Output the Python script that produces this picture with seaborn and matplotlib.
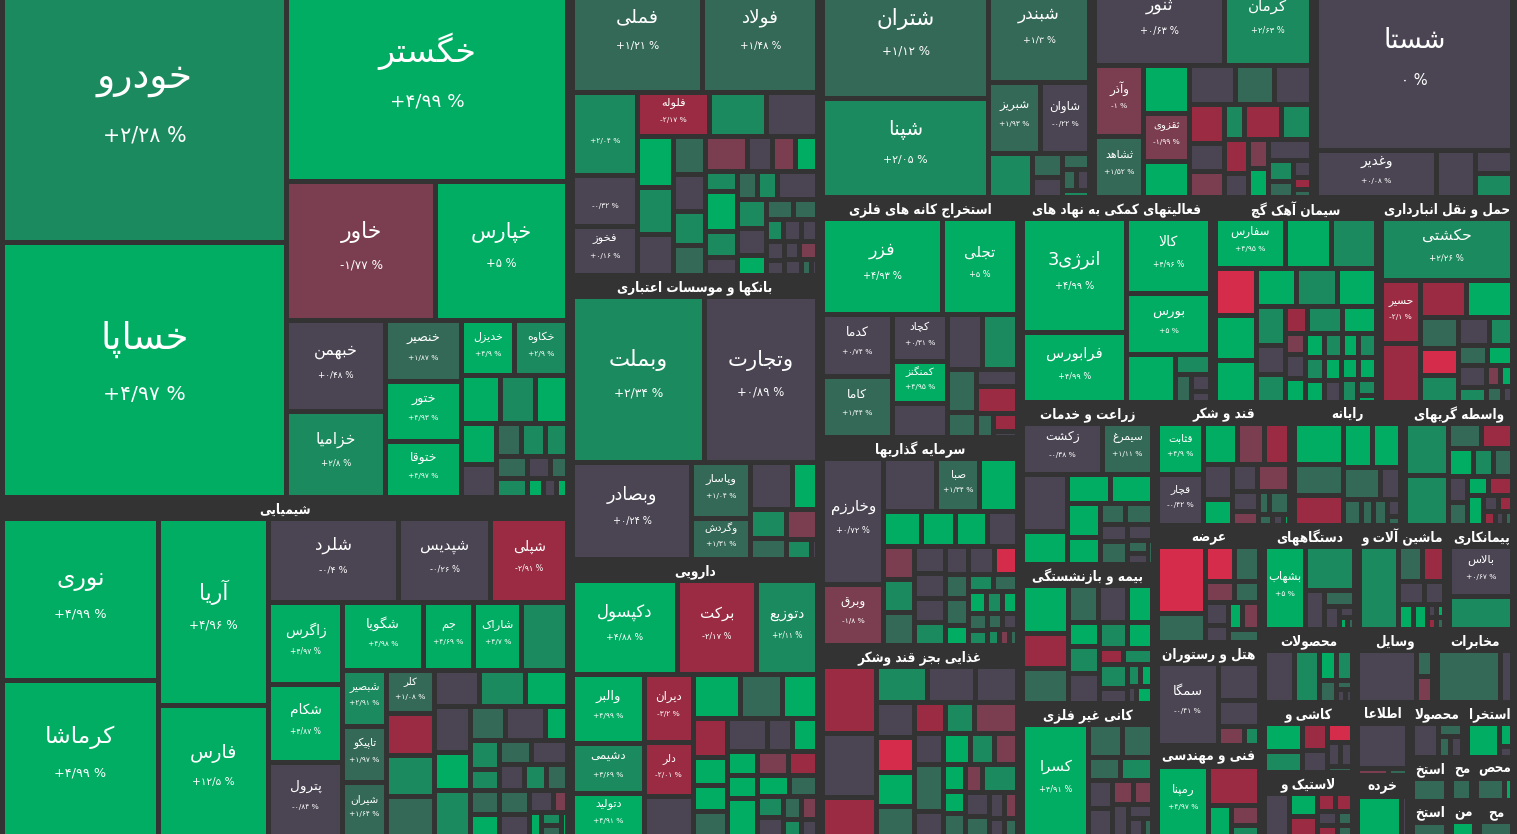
import math
import matplotlib
matplotlib.use("Agg")
import matplotlib.pyplot as plt
import seaborn as sns
from matplotlib.textpath import TextPath
from matplotlib.font_manager import FontProperties

# ---------------- data ----------------
sector_titles = [
    "خودرو و ساخت قطعات", "شیمیایی", "فلزات اساسی", "بانکها و موسسات اعتباری", "دارویی",
    "فرآورده های نفتی", "انبوه سازی املاک و مستغلات", "چند رشته ای صنعتی",
    "استخراج کانه های فلزی", "سرمایه گذاریها", "غذایی بجز قند وشکر",
    "فعالیتهای کمکی به نهاد های مالی", "سیمان آهک گچ", "حمل و نقل انبارداری و ارتباطات",
    "زراعت و خدمات وابسته", "بیمه و بازنشستگی", "کانی غیر فلزی",
    "قند و شکر", "رایانه", "واسطه گریهای مالی",
    "عرضه برق،گاز،بخار و آب گرم", "هتل و رستوران", "فنی و مهندسی",
    "دستگاههای برقی", "ماشین آلات و تجهیزات", "پیمانکاری صنعتی",
    "محصولات فلزی", "کاشی و سرامیک", "لاستیک و پلاستیک",
    "وسایل ارتباطی", "مخابرات", "اطلاعات و ارتباطات", "خرده فروشی",
    "محصولات کاغذی", "استخراج نفت گاز", "استخراج ذغال سنگ", "استخراج سایر معادن",
    "محصولات چوبی", "محصولات چرمی", "منسوجات", "محصولات شیمیایی",
]
sector_sizes = [
    308370, 193230, 79750, 71000, 69250, 65550, 53500, 48440, 48000, 41600, 38200,
    39500, 34000, 27980, 21870, 18770, 17960, 16850, 13600, 13830, 12520, 11020, 9740,
    9880, 9400, 7030, 6790, 6510, 5950, 5840, 5840, 4020, 3360, 3030, 2750, 1720, 1400,
    1080, 1760, 980, 1370,
]

auto_names = ["خودرو", "خساپا", "خگستر", "خاور", "خپارس", "خبهمن", "خزامیا", "خنصیر", "ختور", "ختوقا", "خدیزل", "خکاوه"]
auto_sizes = [71900, 69100, 54600, 19800, 17600, 8550, 8080, 4380, 4380, 4020, 2780, 2740, 1800, 1550, 1470,
              1400, 1120, 800, 750, 700, 620, 560, 480, 350, 300, 250, 200]
auto_changes = [2.28, 4.97, 4.99, -1.77, 5, 0.48, 2.8, 1.87, 4.93, 4.97, 4.9, 2.9, 4.5, 2.5, 4.2,
                4.1, 0.3, 1.5, 2.3, 2.4, 1.4, 2.2, 0.2, 1.3, 4.2, 0.1, 4.5]

chem_names = ["نوری", "کرماشا", "آریا", "فارس", "شلرد", "شپدیس", "شپلی", "زاگرس", "شکام", "پترول",
              "شگویا", "جم", "شاراک", "", "شبصیر", "تاپیکو", "شیران", "کلر"]
chem_sizes = [24640, 23870, 20270, 14170, 10690, 7610, 6320, 5900, 5690, 5330, 5310, 3330, 3200, 3010,
              2430, 2380, 2320, 2050, 1940, 1940, 1850, 1630, 1660, 1510, 1620, 1350, 1640, 1150, 1310,
              730, 810, 620, 680, 620, 760, 840, 650, 570, 530, 700, 650, 500, 300, 280, 250, 200, 150]
chem_changes = [4.99, 4.99, 4.96, 12.5, -0.4, -0.26, -2.91, 4.97, 4.87, -0.84, 4.98, 4.69, 4.7, 2.5,
                2.91, 1.97, 1.64, 1.08, -2.5, 2.4, 1.5, 0.3, 2.3, 4.5, 0.1, 4.2, 2.2, 1.4, 0.2,
                4.4, 2.1, 2.0, 1.3, 4.1, 1.2, 0.4, -0.2, 2.2, 1.6, 1.3, 0.2, -0.4, -1.5, 4.2, 2.2, 1.4, 4.3]

metal_names = ["فملی", "فولاد", "", "", "فخوز", "فلوله"]
metal_sizes = [15010, 13210, 5450, 3360, 3240, 3240, 2580, 2280, 1820, 1670, 1480, 1210, 1170, 1090, 975,
               1440, 860, 810, 760, 650, 1330, 830, 590, 570, 550, 1140, 830, 800, 570, 540, 490, 380,
               380, 360, 340, 270, 270, 340, 270, 150, 100]
metal_changes = [1.21, 1.48, 2.04, -0.32, 0.16, -2.17, 2.3, 0.5, 4.5, 2.6, 0.2, 1.5, -0.3, 2.3, 1.2,
                 -1.3, 0.3, -1.4, 4.4, 2.4, 4.3, 2.3, 0.2, 1.4, 2.3, 0.1, 2.2, -0.1, 4.2, 1.3, 1.5, 2.1,
                 0.3, 0.1, 0.2, 0.1, 0.3, -1.5, 0.2, 1.3, 0.1]

bank_names = ["وبملت", "وتجارت", "وبصادر", "وپاسار", "وگردش"]
bank_sizes = [22340, 19150, 11780, 3310, 2440, 2020, 1180, 1080, 760, 960, 530, 120]
bank_changes = [2.34, 0.89, 0.24, 1.04, 1.31, 0.3, 4.5, 2.2, 1.5, -1.4, 2.4, 0.3]

pharma_names = ["دکپسول", "برکت", "دتوزیع", "والبر", "دشیمی", "دتولید", "دیران", "دلر"]
pharma_sizes = [9240, 6950, 5370, 4690, 3420, 2880, 3150, 2430, 1850, 1990, 1760, 1440, 1260, 880, 830,
                800, 1260, 770, 770, 700, 650, 1100, 700, 650, 600, 550, 500, 450, 400, 350, 300, 250]
pharma_changes = [4.88, -2.17, 2.11, 4.99, 3.69, 4.91, -3.2, -2.01, 0.2, 4.3, 1.6, 4.5, -2.6, 4.4, 4.2,
                  1.5, 0.1, 0.3, 4.2, 4.5, 4.1, 4.3, -1.5, -2.4, 4.2, 1.4, 2.3, 0.2, 1.3, -1.6, 2.2, 0.1]

refine_names = ["شتران", "شپنا", "شبندر", "شبریز", "شاوان"]
refine_sizes = [20540, 16870, 10800, 3800, 3580, 1980, 710, 620, 430, 300, 280, 200]
refine_changes = [1.12, 2.05, 1.3, 1.93, -0.22, 2.2, 1.5, 0.3, 1.4, 1.3, 0.2, 2.1]

estate_names = ["ثنور", "کرمان", "وآذر", "ثشاهد", "", "ثقزوی"]
estate_sizes = [11350, 7650, 3480, 3010, 2200, 2200, 1670, 1810, 1520, 1440, 1370, 950, 920, 730, 1300,
                1070, 840, 580, 580, 580, 900, 500, 400, 300, 200, 150]
estate_changes = [0.63, 2.63, -1, 1.52, 4.4, -1.99, 4.5, 0.4, 1.2, -0.5, -2.5, 0.2, -1.5, 2.3, -3.0,
                  2.1, -2.8, 0.3, -1.6, 4.3, 0.1, 2.2, 1.4, -0.2, -2.4, 1.3]

multi_names = ["شستا", "وغدیر"]
multi_sizes = [33600, 5620, 1820, 860, 860]
multi_changes = [0, 0.08, 0.1, 0.4, 2.3]

ore_names = ["فزر", "تجلی", "کدما", "کاما", "کچاد", "کمنگنز"]
ore_sizes = [11300, 7130, 4280, 4210, 2590, 2310, 1870, 1940, 1890, 1250, 740, 700, 1060, 400, 420, 150]
ore_changes = [4.93, 5, 0.74, 1.44, 0.31, 4.95, 0.3, 0.2, 2.3, 1.2, 1.4, 0.1, -2.6, 1.3, -2.2, 0.2]

invest_names = ["وخارزم", "وبرق", "", "صبا"]
invest_sizes = [7580, 3680, 2700, 2250, 1940, 1310, 1190, 1120, 1040, 970, 1000, 970, 810, 770, 720, 700,
                620, 730, 620, 540, 600, 450, 400, 380, 400, 350, 330, 300, 280, 250, 230, 200, 150, 120]
invest_changes = [0.72, -1.8, 0.3, 1.34, 4.4, 4.2, 4.5, 4.1, 0.2, -1.6, 2.3, 1.4, 0.4, 0.1, -0.2, 2.2,
                  0.3, 0.2, -4.5, 1.5, 1.6, 4.3, 2.2, 1.3, 4.2, 2.4, 4.1, 1.2, 2.1, 1.4, 0.2, 2.3, -1.3, 1.5]

food_names = []
food_sizes = [3190, 3090, 1860, 1630, 1520, 1330, 1180, 1190, 1120, 1020, 850, 780, 1190, 780, 725, 650,
              625, 1190, 650, 520, 430, 450, 400, 875, 500, 400, 350, 300, 250, 200]
food_changes = [-2.8, 0.3, -2.4, 2.4, 0.2, 0.4, -0.1, -4.6, 4.3, 1.5, -2.4, 2.5, -1.5, 0.2, 4.2, 2.3,
                -1.4, 1.4, 0.1, 4.4, 4.1, 1.3, -1.6, 2.3, 0.3, 1.5, -0.3, -1.2, 0.2, 1.4]

finsvc_names = ["انرژی3", "فرابورس", "کالا", "بورس"]
finsvc_sizes = [11420, 6940, 5990, 4860, 2210, 680, 420, 300, 200]
finsvc_changes = [4.99, 4.99, 4.96, 5, 4.5, 2.2, 1.5, 0.3, 0.2]

cement_names = ["سفارس"]
cement_sizes = [3430, 2300, 2160, 1880, 1800, 1680, 1480, 1510, 1440, 1100, 800, 800, 575, 900, 870, 400,
                475, 460, 460, 420, 420, 400, 380, 400, 380, 360, 360, 380, 360, 300, 120]
cement_changes = [4.95, 4.5, 2.3, -4.5, 4.4, 4.3, 4.2, 2.5, 4.1, 2.3, 0.2, 2.2, -2.5, 2.3, 4.4, -1.5,
                  0.1, 4.3, 4.2, 2.3, 4.4, 2.2, 4.1, 2.4, 4.5, 0.2, 4.3, 4.2, 2.1, 2.3, 4.1]

trans_names = ["حکشتی", "حسیر"]
trans_sizes = [8180, 2480, 2320, 1700, 1670, 1160, 1050, 1010, 840, 650, 570, 510, 600, 420, 300, 250, 250, 150]
trans_changes = [2.26, -2.1, -2.5, -2.3, 4.4, 1.3, -4.2, 2.2, -0.3, 2.3, 1.4, 4.1, 0.2, 2.1, -1.6, 4.3, 1.2, 0.3]

farm_names = ["زکشت", "سیمرغ"]
farm_sizes = [3950, 2500, 2510, 1450, 1200, 1160, 1080, 870, 520, 550, 435, 600, 400, 260, 240, 80]
farm_changes = [-0.38, 1.11, 0.2, 4.3, 4.5, 4.4, 4.2, 4.1, 1.5, 1.3, 0.3, 1.2, 0.2, 1.6, 0.1, 1.2]

insur_names = []
insur_sizes = [2110, 1540, 1540, 1050, 1020, 880, 730, 810, 900, 700, 650, 360, 430, 625, 400, 280, 250, 150, 250]
insur_changes = [4.2, -2.5, 1.5, 1.3, 0.1, 4.3, 4.2, 2.4, 0.2, 2.2, 4.4, -2.3, 2.1, 2.3, 0.2, 2.2, 4.1, 0.3, 4.3]

mineral_names = ["کسرا"]
mineral_sizes = [6870, 1020, 930, 660, 690, 600, 620, 460, 400, 480, 300, 250, 150]
mineral_changes = [4.91, 1.4, 1.6, 1.2, 2.3, 0.2, 0.3, -1.5, -1.7, 0.1, 0.2, -0.2, 1.3]

sugar_names = ["قثابت", "قچار"]
sugar_sizes = [2250, 2250, 1290, 1050, 980, 960, 725, 650, 840, 480, 340, 220, 430, 150, 120, 60]
sugar_changes = [4.9, -0.42, 4.3, -1.4, -2.3, 0.3, 4.4, -0.2, -1.3, 0.2, -1.6, 1.4, 1.3, 1.2, 0.1, 4.2]

comp_names = []
comp_sizes = [1920, 1440, 1390, 1200, 1170, 1160, 600, 435, 300, 340, 200, 100]
comp_changes = [4.4, 1.5, -2.5, 4.2, 4.3, 1.4, 0.2, 1.4, 1.3, 1.2, 0.1, 1.3]

broker_names = []
broker_sizes = [2100, 2020, 790, 720, 680, 550, 500, 480, 420, 375, 425, 440, 220, 200, 150, 130, 100]
broker_changes = [2.4, 2.3, 1.3, -2.6, 4.3, 2.2, 1.4, 0.3, 1.5, 4.2, -2.2, 4.1, 0.2, -2.2, -2.3, -0.1, 1.2]

power_names = []
power_sizes = [3260, 1390, 1010, 900, 630, 525, 510, 400, 360, 460, 420]
power_changes = [-4.5, 1.5, -4.2, 1.4, -1.4, 1.3, 0.2, 0.1, 4.3, -1.3, 1.2]

hotel_names = ["سمگا"]
hotel_sizes = [4860, 1520, 1030, 490, 285]
hotel_changes = [-0.41, 0.2, 0.3, -1.5, 2.2]

eng_names = ["رمپنا"]
eng_sizes = [3520, 2000, 700, 550, 300]
eng_changes = [4.97, -2.5, 4.2, -1.4, 2.2]

elec_names = ["بشهاب"]
elec_sizes = [3360, 2160, 760, 480, 330, 150, 100, 80]
elec_changes = [5, 2.3, 0.2, 1.4, 0.1, 0.3, 4.2, 1.3]

mach_names = []
mach_sizes = [3080, 790, 730, 570, 440, 340, 340, 120, 100, 100, 90]
mach_changes = [2.3, 1.3, -2.4, 0.2, 0.1, 4.2, 4.1, 0.3, 4.4, -2.2, 1.2]

contr_names = ["بالاس"]
contr_sizes = [3200, 2110]
contr_changes = [0.67, 2.2]

metprod_sizes = [1510, 1250, 490, 440, 350, 150, 120, 80]
metprod_changes = [0.3, 2.4, 4.3, 2.2, 1.4, 1.3, 0.2, 0.1]
tile_sizes = [1070, 780, 670, 540, 480, 300, 290, 150]
tile_changes = [4.3, 2.3, -2.6, 0.3, -4.5, 0.2, 0.2, 1.3]
rubber_sizes = [960, 590, 490, 285, 270, 250, 200, 200, 150]
rubber_changes = [0.3, 4.2, -2.4, -2.5, -2.3, 0.1, -2.2, 1.4, 1.3]
vehicle_sizes = [2360, 320, 320]
vehicle_changes = [0.2, 1.4, -1.5]
telecom_sizes = [2480, 480]
telecom_changes = [1.3, 0.2]
info_sizes = [2900, 280, 170]
info_changes = [0.2, -1.6, 1.3]
retail_sizes = [1480, 200]
retail_changes = [4.3, 0.2]
paper_sizes = [900, 300, 250, 250]
paper_changes = [0.2, 1.3, 1.4, 0.1]
oil_sizes = [930, 250, 120]
oil_changes = [4.3, 4.1, 0.2]
small_sizes = [[700], [500], [300], [700, 200], [300], [400]]
small_changes = [[1.4], [1.3], [1.2], [1.5, 4.2], [4.3], [1.3]]

pct_only = {2: [2, 3]}   # sector index -> tiles showing only the percentage

stocks = [
    (auto_names, auto_sizes, auto_changes), (chem_names, chem_sizes, chem_changes),
    (metal_names, metal_sizes, metal_changes), (bank_names, bank_sizes, bank_changes),
    (pharma_names, pharma_sizes, pharma_changes), (refine_names, refine_sizes, refine_changes),
    (estate_names, estate_sizes, estate_changes), (multi_names, multi_sizes, multi_changes),
    (ore_names, ore_sizes, ore_changes), (invest_names, invest_sizes, invest_changes),
    (food_names, food_sizes, food_changes), (finsvc_names, finsvc_sizes, finsvc_changes),
    (cement_names, cement_sizes, cement_changes), (trans_names, trans_sizes, trans_changes),
    (farm_names, farm_sizes, farm_changes), (insur_names, insur_sizes, insur_changes),
    (mineral_names, mineral_sizes, mineral_changes), (sugar_names, sugar_sizes, sugar_changes),
    (comp_names, comp_sizes, comp_changes), (broker_names, broker_sizes, broker_changes),
    (power_names, power_sizes, power_changes), (hotel_names, hotel_sizes, hotel_changes),
    (eng_names, eng_sizes, eng_changes), (elec_names, elec_sizes, elec_changes),
    (mach_names, mach_sizes, mach_changes), (contr_names, contr_sizes, contr_changes),
    ([], metprod_sizes, metprod_changes), ([], tile_sizes, tile_changes),
    ([], rubber_sizes, rubber_changes), ([], vehicle_sizes, vehicle_changes),
    ([], telecom_sizes, telecom_changes), ([], info_sizes, info_changes),
    ([], retail_sizes, retail_changes), ([], paper_sizes, paper_changes),
    ([], oil_sizes, oil_changes),
] + [([], s, c) for s, c in zip(small_sizes, small_changes)]

bin_colors = ["#D62C4C", "#9B2B42", "#7B3E50", "#4B4553", "#356957", "#1B8A5E", "#00AD63"]
BG = "#333333"

# ---------------- helpers ----------------
FORMS = {
    'ء': ('\uFE80', None, None, None), 'آ': ('\uFE81', '\uFE82', None, None),
    'أ': ('\uFE83', '\uFE84', None, None), 'ؤ': ('\uFE85', '\uFE86', None, None),
    'إ': ('\uFE87', '\uFE88', None, None), 'ئ': ('\uFE89', '\uFE8A', '\uFE8B', '\uFE8C'),
    'ا': ('\uFE8D', '\uFE8E', None, None), 'ب': ('\uFE8F', '\uFE90', '\uFE91', '\uFE92'),
    'ة': ('\uFE93', '\uFE94', None, None), 'ت': ('\uFE95', '\uFE96', '\uFE97', '\uFE98'),
    'ث': ('\uFE99', '\uFE9A', '\uFE9B', '\uFE9C'), 'ج': ('\uFE9D', '\uFE9E', '\uFE9F', '\uFEA0'),
    'ح': ('\uFEA1', '\uFEA2', '\uFEA3', '\uFEA4'), 'خ': ('\uFEA5', '\uFEA6', '\uFEA7', '\uFEA8'),
    'د': ('\uFEA9', '\uFEAA', None, None), 'ذ': ('\uFEAB', '\uFEAC', None, None),
    'ر': ('\uFEAD', '\uFEAE', None, None), 'ز': ('\uFEAF', '\uFEB0', None, None),
    'س': ('\uFEB1', '\uFEB2', '\uFEB3', '\uFEB4'), 'ش': ('\uFEB5', '\uFEB6', '\uFEB7', '\uFEB8'),
    'ص': ('\uFEB9', '\uFEBA', '\uFEBB', '\uFEBC'), 'ض': ('\uFEBD', '\uFEBE', '\uFEBF', '\uFEC0'),
    'ط': ('\uFEC1', '\uFEC2', '\uFEC3', '\uFEC4'), 'ظ': ('\uFEC5', '\uFEC6', '\uFEC7', '\uFEC8'),
    'ع': ('\uFEC9', '\uFECA', '\uFECB', '\uFECC'), 'غ': ('\uFECD', '\uFECE', '\uFECF', '\uFED0'),
    'ف': ('\uFED1', '\uFED2', '\uFED3', '\uFED4'), 'ق': ('\uFED5', '\uFED6', '\uFED7', '\uFED8'),
    'ل': ('\uFEDD', '\uFEDE', '\uFEDF', '\uFEE0'), 'م': ('\uFEE1', '\uFEE2', '\uFEE3', '\uFEE4'),
    'ن': ('\uFEE5', '\uFEE6', '\uFEE7', '\uFEE8'), 'ه': ('\uFEE9', '\uFEEA', '\uFEEB', '\uFEEC'),
    'و': ('\uFEED', '\uFEEE', None, None), 'پ': ('\uFB56', '\uFB57', '\uFB58', '\uFB59'),
    'چ': ('\uFB7A', '\uFB7B', '\uFB7C', '\uFB7D'), 'ژ': ('\uFB8A', '\uFB8B', None, None),
    'ک': ('\uFB8E', '\uFB8F', '\uFB90', '\uFB91'), 'گ': ('\uFB92', '\uFB93', '\uFB94', '\uFB95'),
    'ی': ('\uFBFC', '\uFBFD', '\uFBFE', '\uFBFF'),
}
LAM_ALEF = {'ا': ('\uFEFB', '\uFEFC'), 'آ': ('\uFEF5', '\uFEF6'),
            'أ': ('\uFEF7', '\uFEF8'), 'إ': ('\uFEF9', '\uFEFA')}


def shape(text):
    # join arabic letters and reverse for left-to-right drawing
    def fwd(c):
        return c in FORMS and FORMS[c][2] is not None

    def letter(c):
        return c in FORMS and c != 'ء'

    out, i, n = [], 0, len(text)
    while i < n:
        c = text[i]
        if c not in FORMS:
            out.append(c)
            i += 1
            continue
        link_prev = i > 0 and fwd(text[i - 1]) and letter(c)
        if c == 'ل' and i + 1 < n and text[i + 1] in LAM_ALEF:
            iso, fin = LAM_ALEF[text[i + 1]]
            out.append(fin if link_prev else iso)
            i += 2
            continue
        link_next = i + 1 < n and fwd(c) and letter(text[i + 1])
        iso, fin, ini, med = FORMS[c]
        out.append(med if link_prev and link_next else fin if link_prev else ini if link_next else iso)
        i += 1
    return ''.join(reversed(out))


FP = FontProperties(family="DejaVu Sans")
FPH = FontProperties(family="DejaVu Sans", weight="bold", stretch="condensed")


def text_w(s, px, prop=FP):
    if not s.strip():
        return 0.0
    return TextPath((0, 0), s, size=px, prop=prop).get_extents().width


def fmt_pct(v):
    s = "0" if v == 0 else f"{abs(v):.2f}".rstrip("0").rstrip(".")
    s = s.translate(str.maketrans("0123456789.", "۰۱۲۳۴۵۶۷۸۹/"))
    sign = "+" if v > 0 else "-" if v < 0 else ""
    return f"{sign}{s} %"


def tile_color(c):
    if c <= -3.8:
        return bin_colors[0]
    if c <= -2:
        return bin_colors[1]
    if c <= -1:
        return bin_colors[2]
    if c < 1:
        return bin_colors[3]
    if c < 2:
        return bin_colors[4]
    if c < 3.8:
        return bin_colors[5]
    return bin_colors[6]


def squarify(values, x0, y0, x1, y1):
    rects = [None] * len(values)
    value = float(sum(values))
    i0, n = 0, len(values)
    while i0 < n:
        dx, dy = x1 - x0, y1 - y0
        s = values[i0]
        i1 = i0 + 1
        mn = mx = s
        alpha = max(dy / dx, dx / dy) / value
        beta = s * s * alpha
        best = max(mx / beta, beta / mn)
        while i1 < n:
            v = values[i1]
            s2, mn2, mx2 = s + v, min(mn, v), max(mx, v)
            beta = s2 * s2 * alpha
            r = max(mx2 / beta, beta / mn2)
            if r > best:
                break
            s, mn, mx, best = s2, mn2, mx2, r
            i1 += 1
        if dx < dy:
            h = dy * s / value if i1 < n else dy
            xx = x0
            for k in range(i0, i1):
                w = dx * values[k] / s
                rects[k] = (xx, y0, xx + w, y0 + h)
                xx += w
            y0 += h
        else:
            w = dx * s / value if i1 < n else dx
            yy = y0
            for k in range(i0, i1):
                h = dy * values[k] / s
                rects[k] = (x0, yy, x0 + w, yy + h)
                yy += h
            x0 += w
        value -= s
        i0 = i1
    return rects


def fit_title(title, avail, px):
    words = title.split(" ")
    for k in range(len(words), 0, -1):
        s = " ".join(words[:k])
        if text_w(shape(s), px, FPH) <= avail:
            return s
    s = words[0]
    while len(s) > 1 and text_w(shape(s), px, FPH) > avail:
        s = s[:-1]
    return s


# ---------------- plot ----------------
sns.set_theme(style="dark", rc={"axes.facecolor": BG, "figure.facecolor": BG})
plt.rcParams["font.family"] = ["DejaVu Sans"]

fig = plt.figure(figsize=(15.17, 8.34), dpi=100)
ax = fig.add_axes([0, 0, 1, 1])
ax.set_xlim(0, 1517)
ax.set_ylim(834, 0)
ax.axis("off")

HEAD, PAD, GAP = 21, 5, 5
PT = 0.72  # px -> pt at 100 dpi
HEAD_PX = 13.5

sec_rects = squarify(sector_sizes, 0, -41, 1515, 839)

bx, by, bw, bh, bc, labels = [], [], [], [], [], []
for si, (title, (sx0, sy0, sx1, sy1)) in enumerate(zip(sector_titles, sec_rects)):
    names, sizes, changes = stocks[si]
    rects = squarify(sizes, sx0 + PAD - GAP / 2, sy0 + HEAD - GAP / 2,
                     sx1 - PAD + GAP / 2, sy1 - PAD + GAP / 2)
    for ti, (x0, y0, x1, y1) in enumerate(rects):
        x0, y0, x1, y1 = x0 + GAP / 2, y0 + GAP / 2, x1 - GAP / 2, y1 - GAP / 2
        bx.append(x0); by.append(y0); bw.append(x1 - x0); bh.append(y1 - y0)
        bc.append(tile_color(changes[ti]))
        name = names[ti] if ti < len(names) else ""
        if name or ti in pct_only.get(si, []):
            labels.append((name, changes[ti], x0, y0, x1, y1))
    # sector header (the top row of headers lies above the visible area)
    if sy0 > 0:
        head = fit_title(title, (sx1 - sx0) - 8, HEAD_PX)
        ax.text((sx0 + sx1) / 2, sy0 + 9.5, shape(head), ha="center", va="center",
                color="white", fontsize=HEAD_PX * PT, fontproperties=FPH, clip_on=True)

ax.bar(bx, bh, width=bw, bottom=by, align="edge", color=bc, linewidth=0)

for name, chg, x0, y0, x1, y1 in labels:
    w, h = x1 - x0, y1 - y0
    cx, cy = (x0 + x1) / 2, (y0 + y1) / 2
    fs = min(max(11 + 0.12 * (math.sqrt(w * h) - 48), 9), 40)
    shaped = shape(name) if name else ""
    if shaped:
        unit = text_w(shaped, 10) / 10
        fs = min(fs, 0.88 * w / unit, h / 2.6)
    if fs < 7:
        continue
    pct = fmt_pct(chg)
    pfs = max(7.5, 0.55 * fs)
    pw = text_w(pct, 10) / 10
    pfs = min(pfs, 0.95 * w / pw)
    if shaped:
        ax.text(cx, cy - 0.75 * fs - 3, shaped, ha="center", va="center",
                color="white", fontsize=fs * PT, clip_on=True)
    ax.text(cx, cy + 0.75 * fs - 3, pct, ha="center", va="center",
            color="white", fontsize=pfs * PT, clip_on=True)

fig.savefig("out.png", dpi=100, facecolor=BG)
